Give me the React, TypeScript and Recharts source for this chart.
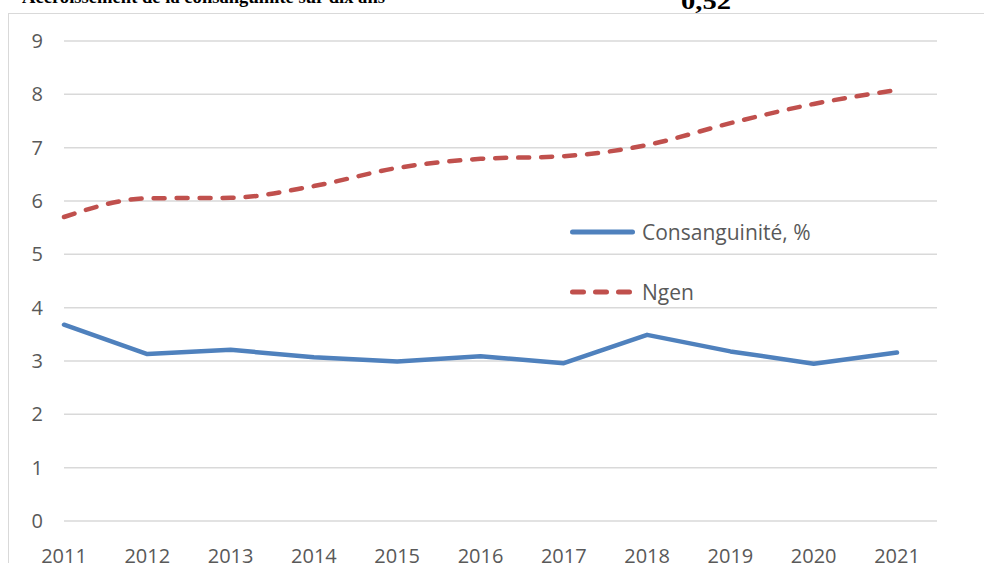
import { CartesianGrid, Legend, Line, LineChart, XAxis, YAxis } from "recharts";

const years = [2011, 2012, 2013, 2014, 2015, 2016, 2017, 2018, 2019, 2020, 2021];
const consanguinite = [3.68, 3.13, 3.21, 3.07, 2.99, 3.09, 2.96, 3.49, 3.18, 2.95, 3.16];
const ngen = [5.7, 6.05, 6.06, 6.28, 6.62, 6.79, 6.84, 7.05, 7.46, 7.82, 8.08];
const yTicks = [0, 1, 2, 3, 4, 5, 6, 7, 8, 9];

const data = years.map((year, i) => ({
  year,
  cons: consanguinite[i],
  ngen: ngen[i],
}));

const LABEL = "#595959";
const FONT = "'Open Sans', sans-serif";

// custom legend: long line swatch + label, stacked
function renderLegend(props: any) {
  const items = props.payload ?? [];
  return (
    <div>
      {items.map((entry: any) => (
        <div key={entry.value} style={{ display: "flex", alignItems: "center", height: 60 }}>
          <svg width={74} height={10}>
            <line
              x1={4.5}
              x2={64.5}
              y1={5}
              y2={5}
              stroke={entry.color}
              strokeWidth={5}
              strokeLinecap="round"
              strokeDasharray={entry.payload?.strokeDasharray}
            />
          </svg>
          <span style={{ fontFamily: FONT, fontSize: 21, color: LABEL, lineHeight: 1 }}>{entry.value}</span>
        </div>
      ))}
    </div>
  );
}

export default function App() {
  return (
    <div
      style={{
        position: "absolute",
        top: 0,
        left: 0,
        width: 984,
        height: 563,
        overflow: "hidden",
        background: "#fff",
      }}
    >
      {/* caption line above the chart, cut off by the crop */}
      <svg width={984} height={14} style={{ position: "absolute", top: 0, left: 0 }}>
        <text
          x={22}
          y={3}
          fontFamily="'Liberation Serif', serif"
          fontWeight="bold"
          fontSize={19}
          fill="#000"
          textLength={363}
          lengthAdjust="spacingAndGlyphs"
        >
          Accroissement de la consanguinité sur dix ans
        </text>
        <text
          x={681}
          y={9}
          fontFamily="'Liberation Serif', serif"
          fontWeight="bold"
          fontSize={23}
          fill="#000"
          textLength={50}
          lengthAdjust="spacingAndGlyphs"
        >
          0,52
        </text>
      </svg>

      <div
        style={{
          position: "absolute",
          left: 8,
          top: 13,
          width: 1000,
          height: 600,
          border: "1px solid #d9d9d9",
          boxSizing: "border-box",
        }}
      />

      <div style={{ position: "absolute", left: 0, top: 0 }}>
        <LineChart width={984} height={600} data={data} margin={{ top: 41, right: 47, left: 0, bottom: 0 }}>
          <CartesianGrid vertical={false} stroke="#d9d9d9" strokeWidth={1.5} />
          <XAxis
            dataKey="year"
            type="number"
            domain={[2011, 2021]}
            ticks={years}
            padding={{ left: 0, right: 40 }}
            axisLine={false}
            tickLine={false}
            tickSize={0}
            tickMargin={28}
            height={79}
            interval={0}
            tick={{ fill: LABEL, fontSize: 20, fontFamily: FONT }}
          />
          <YAxis
            domain={[0, 9]}
            ticks={yTicks}
            axisLine={false}
            tickLine={false}
            tickSize={0}
            tickMargin={21}
            width={64}
            tick={{ fill: LABEL, fontSize: 20, fontFamily: FONT }}
          />
          <Legend
            layout="vertical"
            align="center"
            verticalAlign="middle"
            wrapperStyle={{ left: 568, top: 202, width: 340 }}
            content={renderLegend}
          />
          <Line
            dataKey="cons"
            name="Consanguinité, %"
            type="linear"
            stroke="#4f81bd"
            strokeWidth={4.5}
            strokeLinejoin="round"
            strokeLinecap="round"
            dot={false}
            activeDot={false}
            isAnimationActive={false}
          />
          <Line
            dataKey="ngen"
            name="Ngen"
            type="monotone"
            stroke="#c0504d"
            strokeWidth={4.5}
            strokeDasharray="11 12"
            strokeLinecap="round"
            dot={false}
            activeDot={false}
            isAnimationActive={false}
          />
        </LineChart>
      </div>
    </div>
  );
}
